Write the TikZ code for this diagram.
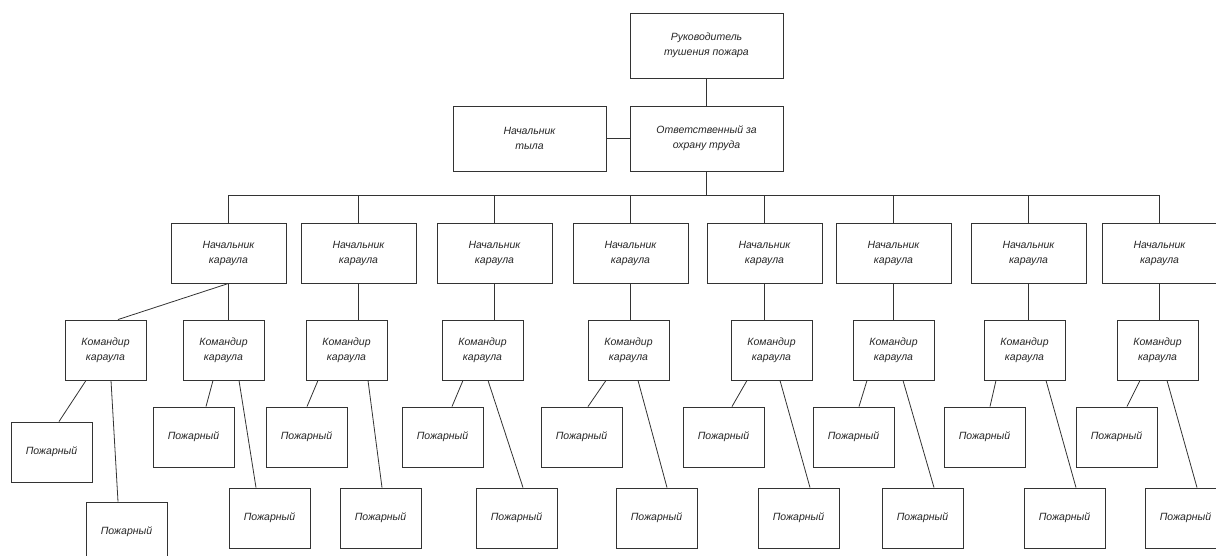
\documentclass[tikz,border=0pt]{standalone}
\usepackage{fontspec}
\setmainfont{Liberation Sans}
\begin{document}
\begin{tikzpicture}[x=1pt,y=-1pt,
    box/.style={draw=black!80,line width=0.9pt,align=center,inner sep=0pt,
        text=black!85,font=\itshape\fontsize{10.5}{15}\selectfont},
    headbox/.style={box,minimum width=153pt,minimum height=65pt},
    chiefbox/.style={box,minimum width=115pt,minimum height=60pt},
    cmdbox/.style={box,minimum width=81pt,minimum height=60pt},
    fighter/.style={box,minimum width=81pt,minimum height=60pt},
    link/.style={draw=black!80,line width=0.8pt}]
\useasboundingbox (0,0) rectangle (1216,555);

% top of the chart
\node[headbox] (ruk) at (706.5,45.5) {Руководитель\\тушения пожара};
\node[headbox] (otv) at (706.5,138.5) {Ответственный за\\охрану труда};
\node[headbox] (tyl) at (529.5,138.5) {Начальник\\тыла};
\coordinate (bus) at (706.5,195);
\draw[link] (ruk.south) -- (otv.north);
\draw[link] (tyl.east) -- (otv.west);
\draw[link] (otv.south) -- (bus);

% chiefs of the watch
\foreach \i/\x in {1/228.5,2/358.5,3/494.5,4/630.5,5/764.5,6/893.5,7/1028.5,8/1159.5}{
    \node[chiefbox] (n\i) at (\x,253) {Начальник\\караула};
    \draw[link] (bus) -| (n\i.north);
}

% commanders
\foreach \i/\x in {1/105.5,2/223.5,3/346.5,4/482.5,5/628.5,6/771.5,7/893.5,8/1024.5,9/1157.5}
    \node[cmdbox] (k\i) at (\x,350) {Командир\\караула};
\draw[link] (n1.south) -- ([xshift=12.5]k1.north);
\foreach \n/\k in {1/2,2/3,3/4,4/5,5/6,6/7,7/8,8/9}
    \draw[link] (n\n.south) -- (n\n.south |- k\k.north);

% firefighters
\foreach \i/\ax/\ay/\bx/\by in {1/51.5/452/126.5/532,2/193.5/437/269.5/518,
        3/306.5/437/380.5/518,4/442.5/437/516.5/518,5/581.5/437/656.5/518,
        6/723.5/437/798.5/518,7/853.5/437/922.5/518,8/984.5/437/1064.5/518,
        9/1116.5/437/1185.5/518}{
    \node[fighter] (a\i) at (\ax,\ay) {Пожарный};
    \node[fighter] (b\i) at (\bx,\by) {Пожарный};
}
\foreach \i/\ka/\aa/\kb/\bb in {1/-19.5/7.5/5.5/-8.5,2/-10.5/12.5/15.5/-13.5,
        3/-28.5/0.5/21.5/1.5,4/-19.5/9.5/5.5/6.5,5/-22.5/6.5/9.5/10.5,
        6/-24.5/8.5/8.5/11.5,7/-26.5/5.5/9.5/11.5,8/-28.5/5.5/21.5/11.5,
        9/-17.5/10.5/9.5/11.5}
    \draw[link] ([xshift=\ka]k\i.south) -- ([xshift=\aa]a\i.north)
        ([xshift=\kb]k\i.south) -- ([xshift=\bb]b\i.north);
\end{tikzpicture}
\end{document}
